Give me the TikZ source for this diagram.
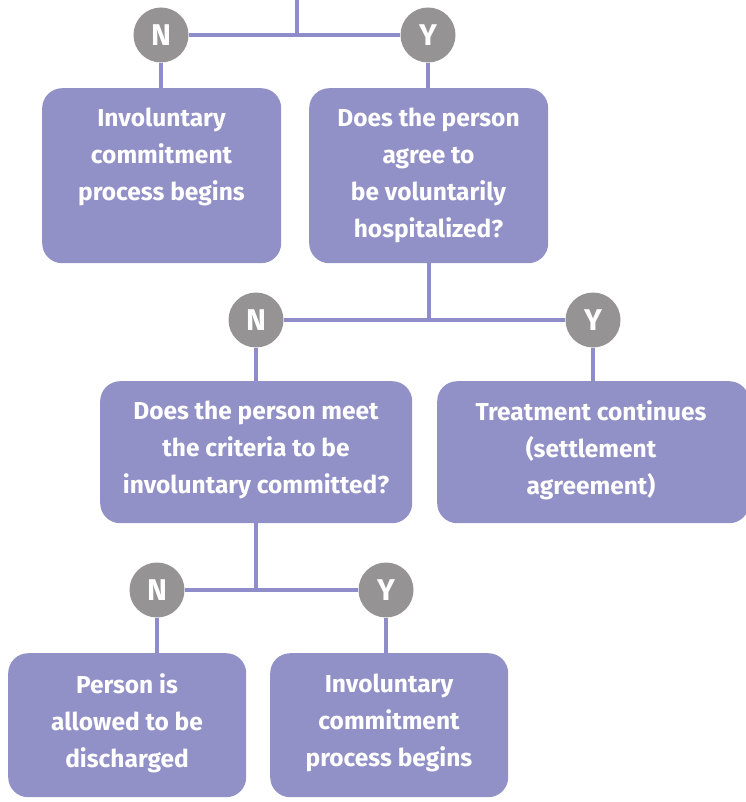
\documentclass[tikz,border=0pt]{standalone}
\usepackage{fontspec}
\setmainfont{Fira Sans}
\usetikzlibrary{positioning, calc}
\definecolor{Lav}{HTML}{9190C7}
\definecolor{LavLine}{HTML}{8E8DC9}
\definecolor{Stone}{HTML}{959393}

\begin{document}
\begin{tikzpicture}[
    x=1pt, y=-1pt,
    box/.style={rectangle, rounded corners=20pt, fill=Lav, inner sep=0pt, anchor=north west},
    txt/.style={align=center, text=white, font=\fontsize{24.5}{37}\selectfont\bfseries},
    dot/.style={circle, fill=Stone, minimum size=55pt, inner sep=0pt, text=white, font=\fontsize{30}{30}\selectfont\bfseries},
    link/.style={draw=LavLine, line width=4pt}
]
\useasboundingbox (0,0) rectangle (745,802);

% boxes
\node[box, minimum width=239pt, minimum height=175pt] (inv1) at (42,88) {};
\node[box, minimum width=239pt, minimum height=175pt] (agree) at (309,88) {};
\node[box, minimum width=312pt, minimum height=142pt] (crit) at (100,381) {};
\node[box, minimum width=312pt, minimum height=142pt] (treat) at (437,381) {};
\node[box, minimum width=238pt, minimum height=144pt] (disc) at (8,653) {};
\node[box, minimum width=238pt, minimum height=144pt] (inv2) at (270,653) {};

% decision dots
\node[dot] (n1) at (161,35) {N};
\node[dot] (y1) at (428,35) {Y};
\node[dot] (n2) at (256,320) {N};
\node[dot] (y2) at (593,320) {Y};
\node[dot] (n3) at (157,590) {N};
\node[dot] (y3) at (386,590) {Y};
\coordinate (top) at (297,0);

% connectors
\draw[link] (top) -- (top |- n1);
\draw[link] (n1) -- (y1);
\draw[link] (n1) -- (inv1.north -| n1);
\draw[link] (y1) -- (agree.north -| y1);
\draw[link] (agree.south) -- (agree.south |- n2);
\draw[link] (n2) -- (y2);
\draw[link] (n2) -- (crit.north -| n2);
\draw[link] (y2) -- (treat.north -| y2);
\draw[link] (crit.south) -- (crit.south |- n3);
\draw[link] (n3) -- (y3);
\draw[link] (n3) -- (disc.north -| n3);
\draw[link] (y3) -- (inv2.north -| y3);

% texts
\node[txt] (inv1txt) at (161.5,157) {Involuntary\\commitment\\process begins};
\node[txt] (agreetxt) at (428.5,175.5) {Does the person\\agree to\\be voluntarily\\hospitalized?};
\node[txt] (crittxt) at (256,450) {Does the person meet\\the criteria to be\\involuntary committed?};
\node[txt] (treattxt) at (591,450) {Treatment continues\\(settlement\\agreement)};
\node[txt] (disctxt) at (127,723) {Person is\\allowed to be\\discharged};
\node[txt] (inv2txt) at (389,723) {Involuntary\\commitment\\process begins};
\end{tikzpicture}
\end{document}
